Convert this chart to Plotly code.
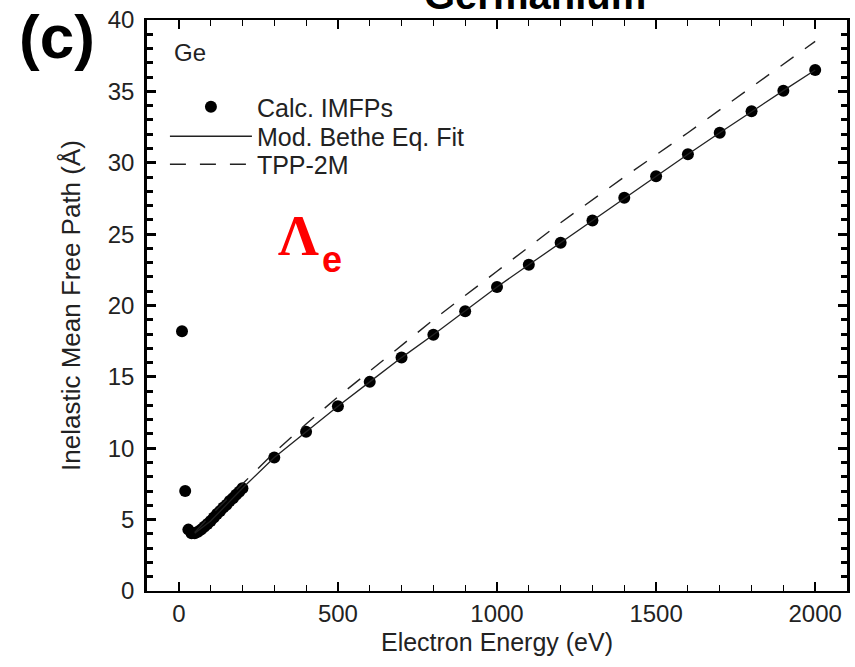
import plotly.graph_objects as go

# Calculated IMFPs (Ge)
calc_energy = [10, 20, 30, 40, 50, 60, 70, 80, 90, 100, 110, 120, 130, 140, 150,
               160, 170, 180, 190, 200, 300, 400, 500, 600, 700, 800, 900, 1000,
               1100, 1200, 1300, 1400, 1500, 1600, 1700, 1800, 1900, 2000]
calc_imfp = [18.2, 7.0, 4.3, 4.05, 4.05, 4.15, 4.3, 4.5, 4.7, 4.9, 5.15, 5.4, 5.6,
             5.85, 6.05, 6.3, 6.5, 6.75, 6.95, 7.2, 9.35, 11.15, 12.95, 14.65,
             16.35, 17.95, 19.6, 21.3, 22.85, 24.4, 25.95, 27.55, 29.05, 30.6,
             32.1, 33.6, 35.05, 36.5]

# Modified Bethe equation fit
fit_energy = [50, 100, 150, 200, 300, 400, 500, 600, 700, 800, 900, 1000, 1100,
              1200, 1300, 1400, 1500, 1600, 1700, 1800, 1900, 2000]
fit_imfp = [4.05, 4.9, 6.05, 7.2, 9.35, 11.15, 12.95, 14.65, 16.35, 17.95, 19.6,
            21.3, 22.85, 24.4, 25.95, 27.55, 29.05, 30.6, 32.1, 33.6, 35.05, 36.5]

# TPP-2M predictive formula
tpp_energy = [50, 100, 200, 300, 400, 500, 600, 800, 1000, 1200, 1400, 1600, 1800, 2000]
tpp_imfp = [4.1, 5.3, 7.5, 9.7, 11.7, 13.6, 15.4, 19.0, 22.4, 25.8, 29.0, 32.1, 35.3, 38.5]

FONT = "Liberation Sans, Arial, Helvetica, sans-serif"
TXT = "#222"

# plot area in pixels: x 147..850, y 20..591
L, R, T, B = 147, 850, 20, 591
W, H = R - L, B - T


def px(x):
    return (x - L) / W


def py(y):
    return (B - y) / H


fig = go.Figure()
fig.add_trace(go.Scatter(x=calc_energy, y=calc_imfp, mode="markers",
                         name="Calc. IMFPs", legend="legend",
                         marker=dict(color="black", size=12)))
fig.add_trace(go.Scatter(x=fit_energy, y=fit_imfp, mode="lines",
                         name="Mod. Bethe Eq. Fit", legend="legend2",
                         line=dict(color=TXT, width=1.3)))
fig.add_trace(go.Scatter(x=tpp_energy, y=tpp_imfp, mode="lines",
                         name="TPP-2M", legend="legend3",
                         line=dict(color=TXT, width=1.4, dash="16px,14px")))

leg_common = dict(xanchor="left", yanchor="middle", bgcolor="rgba(0,0,0,0)",
                  font=dict(size=25, color=TXT), itemwidth=82,
                  borderwidth=0)

fig.update_layout(
    width=855, height=667,
    margin=dict(l=L, r=855 - R, t=T, b=667 - B),
    paper_bgcolor="white", plot_bgcolor="white",
    font=dict(family=FONT, size=24, color=TXT),
    showlegend=True,
    legend=dict(x=px(165), y=py(107), **leg_common),
    legend2=dict(x=px(165), y=py(136.5), **leg_common),
    legend3=dict(x=px(165), y=py(164.5), **leg_common),
    xaxis=dict(range=[-100, 2100], showgrid=False, zeroline=False,
               showline=True, linecolor="black", linewidth=2, mirror="ticks",
               ticks="inside", ticklen=9, tickwidth=2, tickcolor="black",
               tick0=0, dtick=500,
               minor=dict(ticks="inside", ticklen=6, tickwidth=1.2,
                          tickcolor="black", dtick=100),
               tickfont=dict(size=24, color=TXT),
               title=dict(text="Electron Energy (eV)", font=dict(size=25, color=TXT),
                          standoff=8)),
    yaxis=dict(range=[0, 40], showgrid=False, zeroline=False,
               showline=True, linecolor="black", linewidth=2.5, mirror="ticks",
               ticks="inside", ticklen=9, tickwidth=3, tickcolor="black",
               tick0=0, dtick=5, ticklabelstandoff=5,
               minor=dict(ticks="inside", ticklen=6, tickwidth=2.5,
                          tickcolor="black", dtick=1),
               tickfont=dict(size=24, color=TXT),
               title=dict(text="Inelastic Mean Free Path (Å)",
                          font=dict(size=26, color=TXT), standoff=20)),
)

fig.add_annotation(xref="paper", yref="paper", x=px(190), y=py(53),
                   text="Ge", showarrow=False, xanchor="center", yanchor="middle",
                   font=dict(size=24, color=TXT, family=FONT))
fig.add_annotation(xref="paper", yref="paper", x=px(57), y=py(36),
                   text="<b>(c)</b>", showarrow=False, xanchor="center", yanchor="middle",
                   font=dict(size=62, color="black", family=FONT))
fig.add_annotation(xref="paper", yref="paper", x=px(537), y=py(-5),
                   text="<b>Germanium</b>", showarrow=False, xanchor="center",
                   yanchor="middle", font=dict(size=40, color="black", family=FONT))
fig.add_annotation(xref="paper", yref="paper", x=px(299), y=py(236),
                   text="<b>Λ</b>", showarrow=False, xanchor="center", yanchor="middle",
                   font=dict(size=57, color="#f00",
                             family="Liberation Serif, Times New Roman, serif"))
fig.add_annotation(xref="paper", yref="paper", x=px(333), y=py(259),
                   text="<b>e</b>", showarrow=False, xanchor="center", yanchor="middle",
                   font=dict(size=36, color="#f00", family=FONT))

fig.write_html("out.html", config={"displayModeBar": False},
               post_script="document.body.style.margin='0';")
